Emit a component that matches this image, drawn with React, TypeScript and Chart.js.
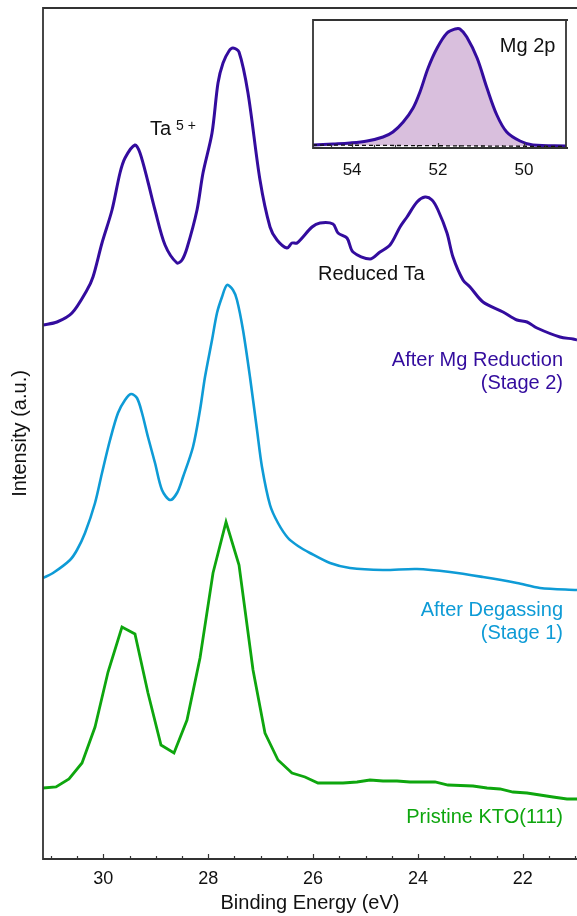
import React, { useEffect, useRef } from 'react';
import { Chart, registerables } from 'chart.js';

Chart.register(...registerables);

const FONT = "'Liberation Sans', Arial, Helvetica, sans-serif";
const PURPLE = '#330c9e';
const BLUE = '#0e9bd6';
const GREEN = '#0ea60e';
const FRAME = '#333333';

// ---- Main panel: Ta 4f region ----
const beMg = [31.15, 30.883, 30.597, 30.311, 30.197, 30.025, 29.834, 29.682, 29.586, 29.396, 29.3, 29.148, 29.014, 28.823, 28.595, 28.499, 28.404, 28.213, 28.099, 27.927, 27.813, 27.717, 27.603, 27.527, 27.412, 27.241, 27.012, 26.821, 26.688, 26.497, 26.402, 26.306, 26.02, 25.868, 25.62, 25.524, 25.353, 25.238, 24.914, 24.724, 24.533, 24.342, 24.209, 24.018, 23.865, 23.732, 23.618, 23.446, 23.332, 23.141, 23.007, 22.76, 22.378, 22.111, 21.92, 21.73, 21.291, 21.043, 20.967];
const intMg = [5.34, 5.37, 5.46, 5.69, 5.82, 6.16, 6.49, 6.86, 7.01, 7.14, 7.06, 6.77, 6.49, 6.14, 5.96, 5.99, 6.11, 6.49, 6.86, 7.26, 7.76, 7.96, 8.08, 8.11, 8.07, 7.66, 6.79, 6.32, 6.19, 6.11, 6.16, 6.16, 6.32, 6.36, 6.35, 6.26, 6.21, 6.07, 6.0, 6.07, 6.14, 6.32, 6.42, 6.57, 6.62, 6.59, 6.49, 6.26, 6.02, 5.79, 5.72, 5.57, 5.47, 5.39, 5.37, 5.31, 5.22, 5.2, 5.19];

const beDeg = [31.15, 30.959, 30.635, 30.502, 30.349, 30.158, 30.025, 29.872, 29.72, 29.586, 29.472, 29.358, 29.262, 29.148, 29.014, 28.881, 28.728, 28.595, 28.48, 28.29, 28.156, 28.061, 27.927, 27.832, 27.737, 27.641, 27.527, 27.451, 27.336, 27.203, 27.069, 26.974, 26.821, 26.669, 26.478, 26.287, 26.059, 25.677, 25.296, 24.667, 24.018, 23.389, 22.76, 22.111, 21.673, 20.967];
const intDeg = [2.81, 2.86, 2.99, 3.09, 3.26, 3.56, 3.86, 4.19, 4.46, 4.59, 4.65, 4.61, 4.46, 4.22, 3.96, 3.69, 3.59, 3.66, 3.82, 4.12, 4.49, 4.82, 5.19, 5.46, 5.62, 5.74, 5.69, 5.59, 5.29, 4.82, 4.29, 3.92, 3.54, 3.36, 3.21, 3.13, 3.06, 2.96, 2.91, 2.89, 2.9, 2.87, 2.82, 2.76, 2.71, 2.69];

const bePri = [31.15, 30.902, 30.654, 30.406, 30.158, 29.91, 29.644, 29.396, 29.148, 28.9, 28.652, 28.404, 28.156, 27.908, 27.66, 27.412, 27.145, 26.917, 26.669, 26.402, 26.154, 25.906, 25.429, 25.162, 24.914, 24.667, 24.4, 24.152, 23.675, 23.427, 22.95, 22.683, 22.435, 22.188, 21.92, 21.673, 21.425, 21.158, 20.967];
const intPri = [0.71, 0.72, 0.8, 0.96, 1.32, 1.87, 2.32, 2.25, 1.66, 1.14, 1.06, 1.39, 2.01, 2.86, 3.37, 2.94, 1.89, 1.26, 0.99, 0.86, 0.82, 0.76, 0.76, 0.77, 0.79, 0.78, 0.78, 0.77, 0.77, 0.74, 0.73, 0.71, 0.7, 0.67, 0.66, 0.64, 0.62, 0.6, 0.6];

const xTickLabels = [30, 28, 26, 24, 22];

// ---- Inset: Mg 2p ----
const beMg2p = [54.91, 54.44, 54.05, 53.65, 53.28, 53.05, 52.81, 52.58, 52.42, 52.23, 52.02, 51.79, 51.6, 51.49, 51.33, 51.09, 50.86, 50.63, 50.4, 50.09, 49.79, 49.02];
const intMg2p = [0.3, 0.4, 0.5, 0.7, 1.1, 1.6, 2.6, 4.0, 5.6, 8.0, 10.0, 11.5, 11.9, 11.9, 11.1, 9.0, 6.0, 3.3, 1.6, 0.7, 0.3, 0.2];
const beBackground = [54.91, 49.02];
const intBackground = [0.3, 0.15];
const insetTickLabels = [54, 52, 50];

const pts = (xs: number[], ys: number[]) => xs.map((x, i) => ({ x, y: ys[i] }));
const isMajor = (v: number, majors: number[]) => majors.some((m) => Math.abs(m - v) < 1e-6);

function halfSteps(lo: number, hi: number) {
  const out: { value: number }[] = [];
  for (let v = Math.ceil(lo * 2) / 2; v <= hi + 1e-9; v += 0.5) out.push({ value: Math.round(v * 2) / 2 });
  return out;
}

function framePlugin(majors: number[], rightBorder: boolean) {
  return {
    id: 'frameTicks',
    afterDraw(chart: any) {
      const { ctx, chartArea: a, scales } = chart;
      const x = scales.x;
      ctx.save();
      ctx.strokeStyle = FRAME;
      ctx.lineWidth = 1.2;
      for (const t of x.ticks) {
        if (t.value < x.min || t.value > x.max) continue;
        const px = Math.round(x.getPixelForValue(t.value)) + 0.5;
        const len = isMajor(t.value, majors) ? 5 : 3;
        ctx.beginPath();
        ctx.moveTo(px, a.bottom);
        ctx.lineTo(px, a.bottom - len);
        ctx.stroke();
      }
      ctx.lineWidth = 1.8;
      ctx.beginPath();
      ctx.moveTo(a.right + 2, a.top);
      ctx.lineTo(a.left, a.top);
      ctx.lineTo(a.left, a.bottom);
      ctx.lineTo(a.right + 2, a.bottom);
      if (rightBorder) {
        ctx.moveTo(a.right, a.top);
        ctx.lineTo(a.right, a.bottom);
      }
      ctx.stroke();
      ctx.restore();
    },
  };
}

const mainLabels = [
  { lines: ['After Mg Reduction', '(Stage 2)'], x: 21.234, y: 4.93, color: PURPLE },
  { lines: ['After Degassing', '(Stage 1)'], x: 21.234, y: 2.43, color: BLUE },
  { lines: ['Pristine KTO(111)'], x: 21.234, y: 0.36, color: GREEN },
];

const mainTextPlugin = {
  id: 'mainText',
  afterDatasetsDraw(chart: any) {
    const { ctx, scales } = chart;
    const { x, y } = scales;
    ctx.save();
    ctx.textBaseline = 'alphabetic';
    ctx.font = `20px ${FONT}`;
    for (const l of mainLabels) {
      ctx.fillStyle = l.color;
      ctx.textAlign = 'right';
      const px = x.getPixelForValue(l.x);
      const py = y.getPixelForValue(l.y);
      l.lines.forEach((s, i) => ctx.fillText(s, px, py + i * 23));
    }
    // Ta5+
    ctx.fillStyle = '#111111';
    ctx.textAlign = 'left';
    const tx = x.getPixelForValue(29.11);
    const ty = y.getPixelForValue(7.24);
    ctx.font = `20px ${FONT}`;
    ctx.fillText('Ta', tx, ty);
    const w = ctx.measureText('Ta').width;
    ctx.font = `14px ${FONT}`;
    ctx.fillText('5 +', tx + w + 5, ty - 5);
    // Reduced Ta
    ctx.font = `20px ${FONT}`;
    ctx.fillText('Reduced Ta', x.getPixelForValue(25.906), y.getPixelForValue(5.79));
    ctx.restore();
  },
};

const insetTextPlugin = {
  id: 'insetText',
  afterDatasetsDraw(chart: any) {
    const { ctx, scales } = chart;
    ctx.save();
    ctx.fillStyle = '#111111';
    ctx.font = `20px ${FONT}`;
    ctx.textAlign = 'left';
    ctx.textBaseline = 'alphabetic';
    ctx.fillText('Mg 2p', scales.x.getPixelForValue(50.56), scales.y.getPixelForValue(9.6));
    ctx.restore();
  },
};

export default function App() {
  const mainRef = useRef<HTMLCanvasElement>(null);
  const insetRef = useRef<HTMLCanvasElement>(null);

  useEffect(() => {
    Chart.defaults.font.family = FONT;
    const main = new Chart(mainRef.current as HTMLCanvasElement, {
      type: 'line',
      data: {
        datasets: [
          { label: 'After Mg Reduction (Stage 2)', data: pts(beMg, intMg), borderColor: PURPLE, borderWidth: 3, pointRadius: 0, tension: 0.3, fill: false },
          { label: 'After Degassing (Stage 1)', data: pts(beDeg, intDeg), borderColor: BLUE, borderWidth: 2.6, pointRadius: 0, tension: 0.3, fill: false },
          { label: 'Pristine KTO(111)', data: pts(bePri, intPri), borderColor: GREEN, borderWidth: 2.8, pointRadius: 0, tension: 0, fill: false },
        ],
      },
      options: {
        animation: false,
        responsive: false,
        maintainAspectRatio: false,
        layout: { padding: { left: 0, top: 8, right: 0, bottom: 0 } },
        plugins: { legend: { display: false }, tooltip: { enabled: false } },
        scales: {
          x: {
            type: 'linear',
            reverse: true,
            min: 20.967,
            max: 31.15,
            afterBuildTicks: (s: any) => { s.ticks = halfSteps(20.967, 31.15); },
            afterFit: (s: any) => { s.height = 57; },
            grid: { display: false, drawTicks: false },
            border: { display: false },
            ticks: {
              autoSkip: false,
              maxRotation: 0,
              padding: 9,
              color: '#111111',
              font: { size: 18, family: FONT },
              callback: (v: any) => (isMajor(Number(v), xTickLabels) ? String(Math.round(Number(v))) : ''),
            },
            title: { display: true, text: 'Binding Energy (eV)', color: '#111111', font: { size: 20, family: FONT }, padding: { top: 0, bottom: 1 } },
          },
          y: {
            type: 'linear',
            min: 0,
            max: 8.51,
            afterFit: (s: any) => { s.width = 43; },
            grid: { display: false, drawTicks: false },
            border: { display: false },
            ticks: { display: false },
            title: { display: true, text: 'Intensity (a.u.)', color: '#111111', font: { size: 20, family: FONT }, padding: { top: 8, bottom: 0 } },
          },
        },
      },
      plugins: [framePlugin(xTickLabels, false), mainTextPlugin],
    });

    const inset = new Chart(insetRef.current as HTMLCanvasElement, {
      type: 'line',
      data: {
        datasets: [
          { label: 'Background', data: pts(beBackground, intBackground), borderColor: '#111111', borderWidth: 1.3, borderDash: [4, 3], pointRadius: 0, fill: false },
          { label: 'Mg 2p', data: pts(beMg2p, intMg2p), borderColor: PURPLE, borderWidth: 3, pointRadius: 0, tension: 0.35, fill: { target: 0 }, backgroundColor: '#d9bfdd' },
        ],
      },
      options: {
        animation: false,
        responsive: false,
        maintainAspectRatio: false,
        layout: { padding: { left: 13, top: 8, right: 11, bottom: 0 } },
        plugins: { legend: { display: false }, tooltip: { enabled: false } },
        scales: {
          x: {
            type: 'linear',
            reverse: true,
            min: 49.02,
            max: 54.91,
            afterBuildTicks: (s: any) => { s.ticks = halfSteps(49.02, 54.91); },
            afterFit: (s: any) => { s.height = 42; },
            grid: { display: false, drawTicks: false },
            border: { display: false },
            ticks: {
              autoSkip: false,
              maxRotation: 0,
              padding: 12,
              color: '#111111',
              font: { size: 17, family: FONT },
              callback: (v: any) => (isMajor(Number(v), insetTickLabels) ? String(Math.round(Number(v))) : ''),
            },
          },
          y: { type: 'linear', display: false, min: 0, max: 12.8 },
        },
      },
      plugins: [framePlugin(insetTickLabels, true), insetTextPlugin],
    });

    return () => {
      main.destroy();
      inset.destroy();
    };
  }, []);

  return (
    <div style={{ position: 'fixed', left: 0, top: 0, width: 577, height: 916, background: '#ffffff' }}>
      <canvas ref={mainRef} width={577} height={916} style={{ position: 'absolute', left: 0, top: 0, width: 577, height: 916 }} />
      <canvas ref={insetRef} width={277} height={178} style={{ position: 'absolute', left: 300, top: 12, width: 277, height: 178, background: '#ffffff' }} />
    </div>
  );
}
